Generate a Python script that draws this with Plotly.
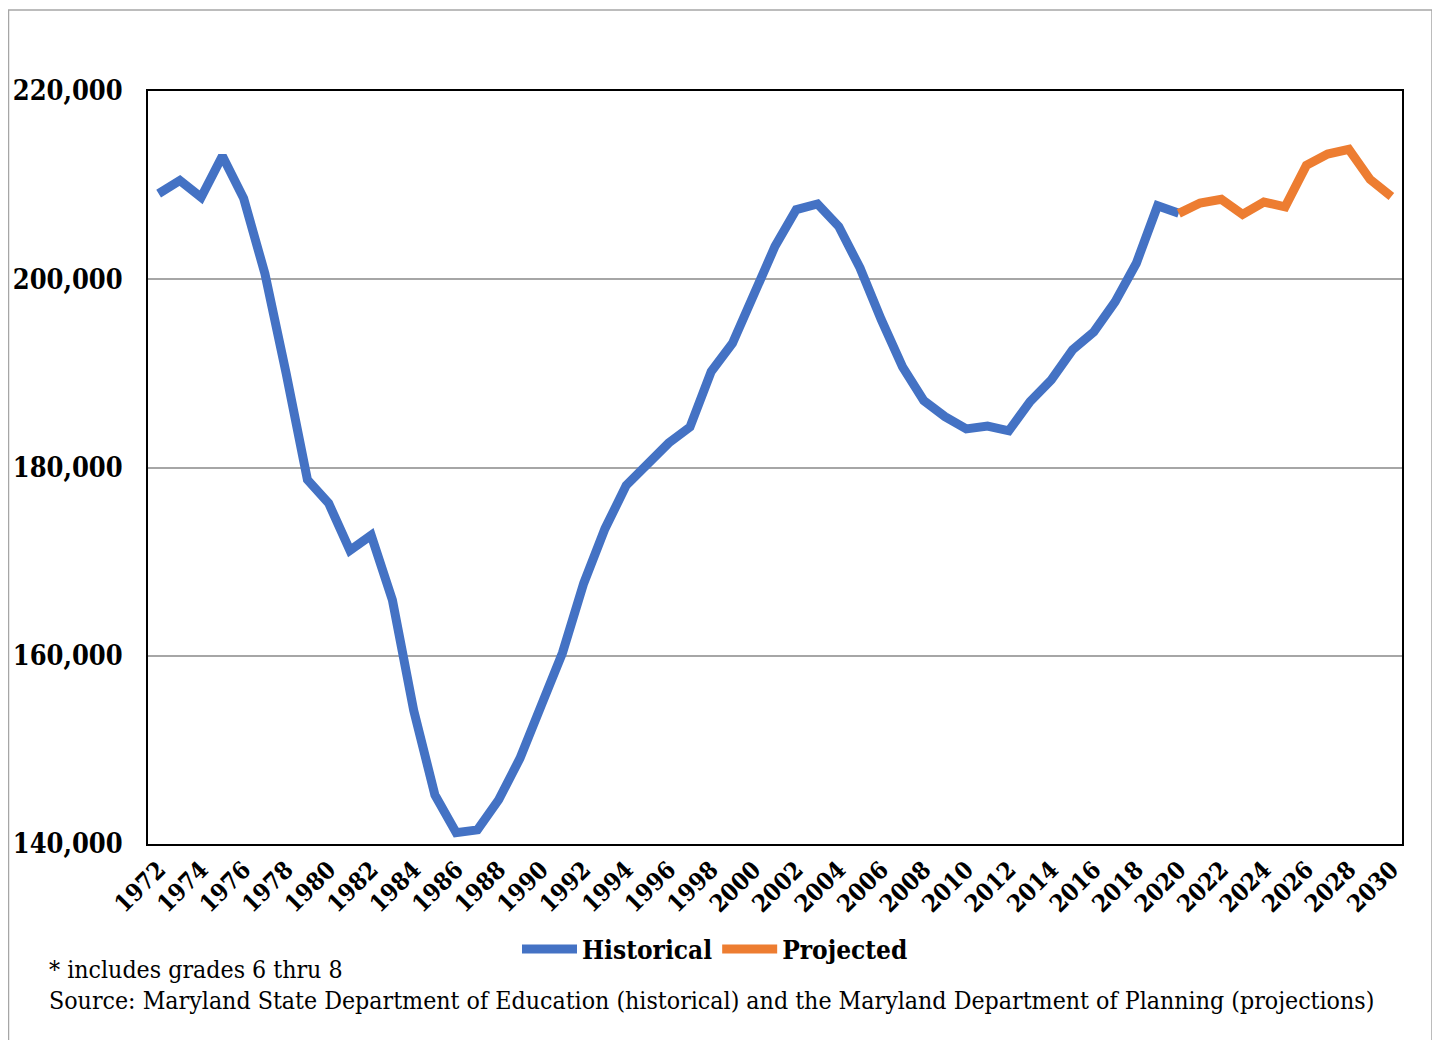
import plotly.graph_objects as go

hist_years = list(range(1972, 2021))
hist_values = [
    209100, 210500, 208700, 213100, 208600, 200600, 190000, 178700, 176200, 171200,
    172800, 165900, 154200, 145200, 141200, 141500, 144700, 149100, 154700, 160300,
    167700, 173500, 178100, 180300, 182600, 184300, 190200, 193200, 198500, 203500,
    207400, 208000, 205600, 201200, 195700, 190700, 187100, 185400, 184100, 184400,
    183900, 187000, 189300, 192500, 194400, 197600, 201700, 207800, 207000,
]
proj_years = list(range(2020, 2031))
proj_values = [207000, 208100, 208500, 206900, 208200, 207700, 212100, 213300, 213800, 210600, 208800]

tick_years = list(range(1972, 2031, 2))
tick_labels = [str(y) for y in tick_years]
y_ticks = [140000, 160000, 180000, 200000, 220000]
y_labels = ["140,000", "160,000", "180,000", "200,000", "220,000"]

SERIF = "DejaVu Serif Condensed, DejaVu Serif, Liberation Serif, serif"

fig = go.Figure()
fig.add_trace(go.Scatter(x=hist_years, y=hist_values, mode="lines", name="Historical",
                         line=dict(color="#4472C4", width=9)))
fig.add_trace(go.Scatter(x=proj_years, y=proj_values, mode="lines", name="Projected",
                         line=dict(color="#ED7D31", width=9)))

OFF = 8  # page body margin
W, H = 1440 - OFF, 1040 - OFF
L, T = 148 - OFF, 91 - OFF
R = W - (1402 - OFF)
B = H - (844 - OFF)
pw, ph = W - L - R, H - T - B


def px_x(x):
    return (x - OFF - L) / pw


def px_y(y):
    return (H - B - (y - OFF)) / ph


fig.update_layout(
    width=W, height=H,
    margin=dict(l=L, r=R, t=T, b=B, autoexpand=False),
    paper_bgcolor="white", plot_bgcolor="white",
    font=dict(family=SERIF, color="black"),
    showlegend=True,
    legend=dict(orientation="h", x=px_x(715), xanchor="center", y=px_y(949), yanchor="middle",
                font=dict(family=SERIF, size=26, color="black", weight="bold"),
                itemwidth=55, tracegroupgap=0, bgcolor="rgba(0,0,0,0)"),
    xaxis=dict(range=[1971.5, 2030.5], tickmode="array", tickvals=tick_years, ticktext=tick_labels,
               tickangle=-45, tickfont=dict(family=SERIF, size=24, color="black", weight="bold"),
               showgrid=False, zeroline=False, showline=True, linecolor="black", linewidth=2,
               mirror=True, ticks="", automargin=False),
    yaxis=dict(range=[140000, 220000], tickmode="array", tickvals=y_ticks, ticktext=y_labels,
               tickfont=dict(family=SERIF, size=27, color="black", weight="bold"),
               showgrid=True, gridcolor="#a6a6a6", gridwidth=1.5, zeroline=False,
               showline=True, linecolor="black", linewidth=2, mirror=True, ticks="",
               ticklabelstandoff=18, automargin=False),
    annotations=[
        dict(text="* includes grades 6 thru 8", xref="paper", yref="paper",
             x=px_x(47), y=px_y(969), xanchor="left", yanchor="middle", showarrow=False,
             font=dict(family=SERIF, size=24.7, color="black")),
        dict(text="Source: Maryland State Department of Education (historical) and the Maryland Department of Planning (projections)",
             xref="paper", yref="paper", x=px_x(47), y=px_y(1000), xanchor="left", yanchor="middle",
             showarrow=False, font=dict(family=SERIF, size=24.7, color="black")),
    ],
    shapes=[
        dict(type="rect", xref="paper", yref="paper", x0=px_x(8.5), x1=px_x(1432), y0=px_y(1080), y1=px_y(10),
             line=dict(color="#a6a6a6", width=1.5), fillcolor="rgba(0,0,0,0)", layer="below"),
    ],
)

fig.write_html("out.html")
